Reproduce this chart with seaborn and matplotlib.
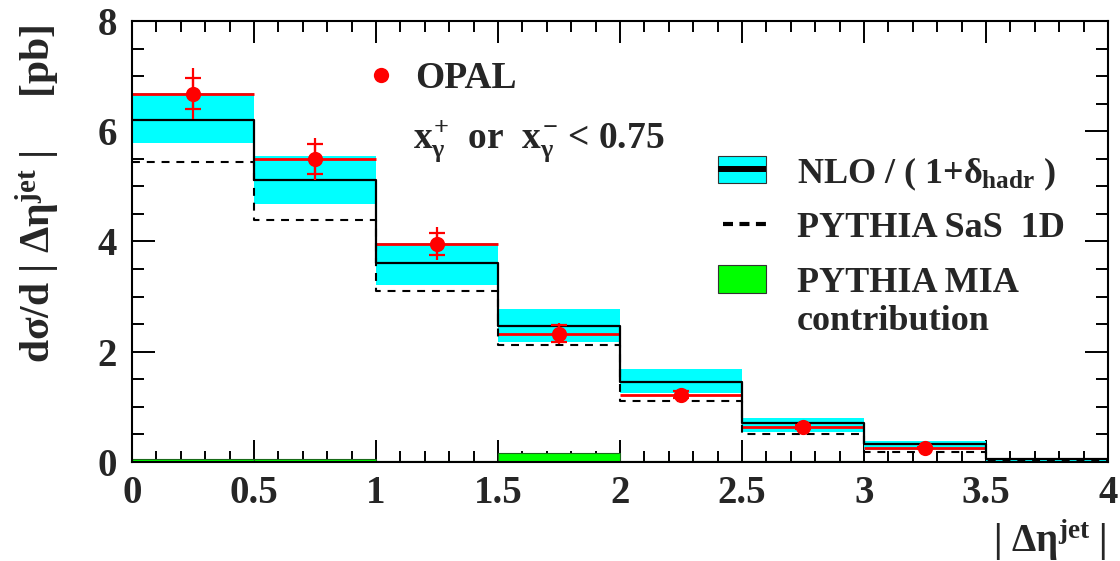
import numpy as np
import pandas as pd
import matplotlib
matplotlib.use("Agg")
import matplotlib.pyplot as plt
from matplotlib.patches import Rectangle
from matplotlib.lines import Line2D
from matplotlib.ticker import MultipleLocator
import seaborn as sns

# |Delta eta^jet| binning
edges = [0.0, 0.5, 1.0, 1.5, 2.0, 2.5, 3.0, 3.5, 4.0]
centers = [0.25, 0.75, 1.25, 1.75, 2.25, 2.75, 3.25, 3.75]

# NLO / (1 + delta_hadr) central value and uncertainty band [pb]
nlo = [6.21, 5.12, 3.61, 2.47, 1.45, 0.71, 0.33, 0.05]
nlo_low = [5.79, 4.68, 3.21, 2.18, 1.25, 0.54, 0.22, 0.02]
nlo_high = [6.70, 5.55, 3.97, 2.78, 1.69, 0.80, 0.38, 0.07]

# PYTHIA SaS 1D prediction and its MIA contribution [pb]
pythia_sas = [5.44, 4.39, 3.10, 2.12, 1.11, 0.51, 0.18, 0.03]
pythia_mia = [0.05, 0.05, 0.01, 0.16, 0.01, 0.01, 0.0, 0.0]

# OPAL measurement (first seven bins)
opal = [6.68, 5.50, 3.96, 2.33, 1.22, 0.63, 0.25]
opal_stat = [0.28, 0.27, 0.20, 0.15, 0.06, 0.04, 0.02]
opal_total = [0.46, 0.38, 0.30, 0.19, 0.08, 0.05, 0.03]

xticks = [0, 0.5, 1, 1.5, 2, 2.5, 3, 3.5, 4]
xticklabels = ["0", "0.5", "1", "1.5", "2", "2.5", "3", "3.5", "4"]
yticks = [0, 2, 4, 6, 8]

RED = "#ff0000"
CYAN = "#00ffff"
GREEN = "#00ff00"

n_data = len(opal)
hist_df = pd.DataFrame({"center": centers, "nlo": nlo,
                        "sas": pythia_sas, "mia": pythia_mia})
opal_df = pd.DataFrame({"center": centers[:n_data], "opal": opal})
left_edges = np.array(edges[:-1])
right_edges = np.array(edges[1:])

sns.set_theme(style="ticks")
plt.rcParams["font.family"] = ["Liberation Serif", "DejaVu Serif"]
plt.rcParams["font.weight"] = "bold"
plt.rcParams["mathtext.fontset"] = "custom"
plt.rcParams["mathtext.rm"] = "Liberation Serif:bold"
plt.rcParams["mathtext.it"] = "Liberation Serif:bold"
plt.rcParams["mathtext.bf"] = "Liberation Serif:bold"
plt.rcParams["mathtext.sf"] = "Liberation Serif:bold"

fig = plt.figure(figsize=(11.2, 5.61), dpi=100)
fig.patch.set_facecolor("white")
ax = fig.add_axes([0.1179, 0.1765, 0.8714, 0.7861])
ax.set_facecolor("white")

# NLO uncertainty band
ax.bar(left_edges, np.array(nlo_high) - np.array(nlo_low), bottom=nlo_low,
       width=right_edges - left_edges, align="edge", color=CYAN,
       linewidth=0, zorder=1)

# PYTHIA MIA contribution
sns.histplot(data=hist_df, x="center", weights="mia", bins=edges,
             element="bars", fill=True, color=GREEN, alpha=1.0,
             edgecolor="#1a6b1a", linewidth=0.8, ax=ax, zorder=2)

# OPAL values as horizontal bin lines
ax.hlines(opal, left_edges[:n_data], right_edges[:n_data], color=RED,
          linewidth=2.0, zorder=3)

# NLO central histogram
sns.histplot(data=hist_df, x="center", weights="nlo", bins=edges,
             element="step", fill=False, color="black", linewidth=1.6,
             ax=ax, zorder=4)

# PYTHIA SaS 1D histogram
sns.histplot(data=hist_df, x="center", weights="sas", bins=edges,
             element="step", fill=False, color="black", linewidth=1.5,
             linestyle=(0, (3.8, 3.3)), ax=ax, zorder=4)

# OPAL points: total errors as lines, statistical errors as caps
ax.errorbar(centers[:n_data], opal, yerr=opal_total, fmt="none", ecolor=RED,
            elinewidth=1.6, zorder=5)
ax.errorbar(centers[:n_data], opal, yerr=opal_stat, fmt="none", ecolor=RED,
            elinewidth=1.6, capsize=6, capthick=1.6, zorder=5)
sns.scatterplot(data=opal_df, x="center", y="opal", color=RED, s=120,
                linewidth=0, ax=ax, zorder=6)

# Axes, ticks and frame
ax.set_xlim(0, 4)
ax.set_ylim(0, 8)
ax.set_xticks(xticks)
ax.set_xticklabels(xticklabels)
ax.set_yticks(yticks)
ax.xaxis.set_minor_locator(MultipleLocator(0.1))
ax.yaxis.set_minor_locator(MultipleLocator(0.5))
ax.tick_params(axis="both", which="both", direction="in", top=True,
               right=True, color="black", width=1.4)
ax.tick_params(axis="x", which="major", length=16, pad=9.5, labelsize=28)
ax.tick_params(axis="x", which="minor", length=8)
ax.tick_params(axis="y", which="major", length=16.5, pad=11, labelsize=28)
ax.tick_params(axis="y", which="minor", length=8.6)
for lab in ax.get_xticklabels() + ax.get_yticklabels():
    lab.set_fontweight("bold")
for sp in ax.spines.values():
    sp.set_linewidth(1.5)
    sp.set_color("black")
    sp.set_zorder(10)
ax.set_xlabel("")
ax.set_ylabel("")

# Axis titles
fig.text(0.033, 0.655, "dσ/d | Δη$^{jet}$ |     [pb]", rotation=90,
         ha="center", va="center", fontsize=30, fontweight="bold")
fig.text(0.9884, 0.016, "| Δη$^{jet}$ |", ha="right", va="baseline",
         fontsize=28, fontweight="bold")

# Data legend
ax.plot([0.2551], [0.8776], "o", color=RED, markersize=11, markeredgewidth=0,
        transform=ax.transAxes, clip_on=False, zorder=7)
ax.text(0.290, 0.848, "OPAL", transform=ax.transAxes, ha="left",
        va="baseline", fontsize=27, fontweight="bold")
ax.text(0.288, 0.712, r"$x^{+}_{\gamma}$  or  $x^{-}_{\gamma}$ < 0.75",
        transform=ax.transAxes, ha="left", va="baseline", fontsize=27,
        fontweight="bold")

# Prediction legend
ax.add_patch(Rectangle((0.6004, 0.6327), 0.0492, 0.0612, facecolor=CYAN,
                       edgecolor="#333333", linewidth=0.8,
                       transform=ax.transAxes, clip_on=False, zorder=7))
ax.add_line(Line2D([0.6004, 0.6496], [0.6633, 0.6633], color="black",
                   linewidth=4.3, solid_capstyle="butt",
                   transform=ax.transAxes, clip_on=False, zorder=8))
ax.add_line(Line2D([0.6055, 0.6496], [0.540, 0.540], color="black",
                   linewidth=3.0, linestyle=(0, (2.4, 1.55)),
                   dash_capstyle="butt", transform=ax.transAxes,
                   clip_on=False, zorder=8))
ax.add_patch(Rectangle((0.6004, 0.383), 0.0492, 0.064, facecolor=GREEN,
                       edgecolor="#333333", linewidth=0.8,
                       transform=ax.transAxes, clip_on=False, zorder=7))

legend_x = 0.681
legend_size = 26
ax.text(legend_x, 0.633, r"NLO / ( 1+$\delta_{hadr}$ )",
        transform=ax.transAxes, ha="left", va="baseline",
        fontsize=legend_size, fontweight="bold")
ax.text(legend_x, 0.510, "PYTHIA SaS  1D", transform=ax.transAxes,
        ha="left", va="baseline", fontsize=legend_size, fontweight="bold")
ax.text(legend_x, 0.385, "PYTHIA MIA", transform=ax.transAxes, ha="left",
        va="baseline", fontsize=legend_size, fontweight="bold")
ax.text(legend_x, 0.299, "contribution", transform=ax.transAxes, ha="left",
        va="baseline", fontsize=legend_size, fontweight="bold")

fig.savefig("out.png", dpi=100, facecolor="white")
